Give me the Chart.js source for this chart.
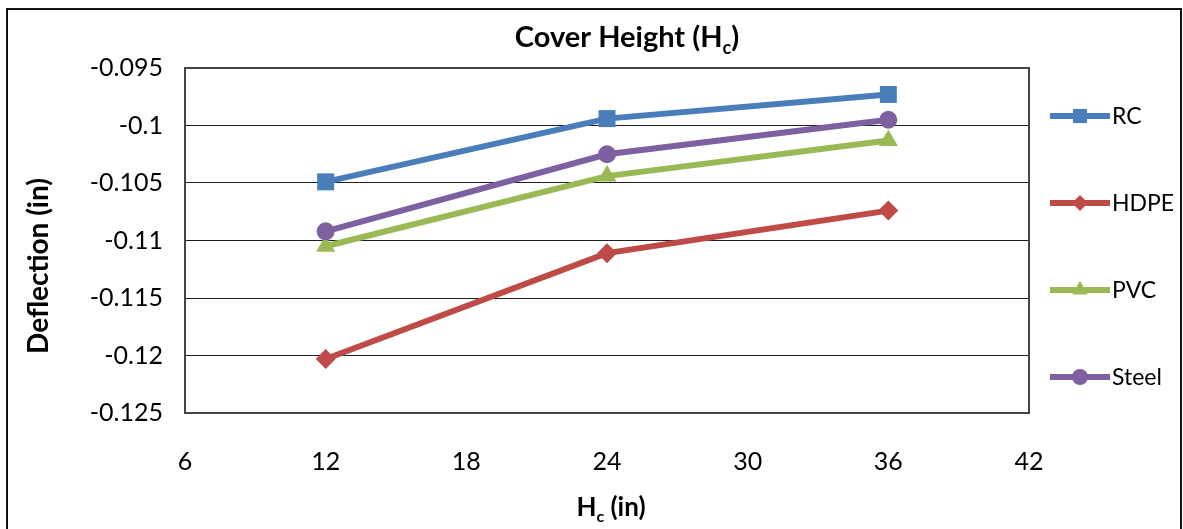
<!DOCTYPE html>
<html>
<head>
<meta charset="utf-8">
<script src="https://cdn.jsdelivr.net/npm/chart.js@4.4.1/dist/chart.umd.min.js"></script>
<style>
  html, body { margin: 0; padding: 0; background: #fff; }
  #wrap { position: relative; width: 1183px; height: 529px; }
</style>
</head>
<body>
<div id="wrap"><canvas id="c"></canvas></div>
<script>
// Cover height on the x axis (in)
const coverHeights = [12, 24, 36];
// Deflection per pipe material (in)
const rcDeflection    = [-0.1049, -0.0994, -0.0973];
const hdpeDeflection  = [-0.1203, -0.1111, -0.1074];
const pvcDeflection   = [-0.1105, -0.1044, -0.1013];
const steelDeflection = [-0.1092, -0.1025, -0.0995];
const seriesNames = ['RC', 'HDPE', 'PVC', 'Steel'];
// Axis ticks
const xTicks = [6, 12, 18, 24, 30, 36, 42];
const yTicks = [-0.125, -0.12, -0.115, -0.11, -0.105, -0.1, -0.095];

const FONT = 'Lato, "Open Sans", "DejaVu Sans", sans-serif';

function pts(values) {
  return coverHeights.map((x, i) => ({ x: x, y: values[i] }));
}

const styles = [
  { color: '#4a7ebb', point: 'rect',     radius: 12,  legendRadius: 10 },
  { color: '#be4b48', point: 'rectRot',  radius: 10,  legendRadius: 8 },
  { color: '#98b954', point: 'triangle', radius: 11,  legendRadius: 9 },
  { color: '#7d60a0', point: 'circle',   radius: 9,   legendRadius: 8 }
];
const seriesValues = [rcDeflection, hdpeDeflection, pvcDeflection, steelDeflection];

const datasets = seriesValues.map((vals, i) => ({
  label: seriesNames[i],
  data: pts(vals),
  borderColor: styles[i].color,
  backgroundColor: styles[i].color,
  borderWidth: 6,
  pointStyle: styles[i].point,
  pointRadius: styles[i].radius,
  pointHoverRadius: styles[i].radius,
  pointBorderWidth: 0,
  pointBackgroundColor: styles[i].color,
  tension: 0,
  order: seriesNames.length - i
}));

// Draws text pieces left to right; pieces flagged sub are smaller and lowered
function drawRich(ctx, parts, cx, cy, size, weight) {
  const subSize = Math.round(size * 0.62);
  const big = weight + ' ' + size + 'px ' + FONT;
  const small = weight + ' ' + subSize + 'px ' + FONT;
  let total = 0;
  parts.forEach(p => { ctx.font = p.sub ? small : big; total += ctx.measureText(p.t).width; });
  let x = cx - total / 2;
  ctx.textBaseline = 'alphabetic';
  ctx.textAlign = 'left';
  const base = cy + size * 0.36;
  parts.forEach(p => {
    ctx.font = p.sub ? small : big;
    ctx.fillText(p.t, x, p.sub ? base + size * 0.22 : base);
    x += ctx.measureText(p.t).width;
  });
}

const captions = {
  id: 'captions',
  afterDraw(chart) {
    const ctx = chart.ctx;
    ctx.save();
    ctx.fillStyle = '#000';
    drawRich(ctx, [{ t: 'Cover Height (H' }, { t: 'c', sub: true }, { t: ')' }], 627, 37, 29, 'bold');
    drawRich(ctx, [{ t: 'H' }, { t: 'c', sub: true }, { t: ' (in)' }], 611, 507, 26, 'bold');
    ctx.translate(38, 266);
    ctx.rotate(-Math.PI / 2);
    drawRich(ctx, [{ t: 'Deflection (in)' }], 0, 0, 28, 'bold');
    ctx.restore();
  }
};

const frame = {
  id: 'frame',
  beforeDraw(chart) {
    const ctx = chart.ctx;
    ctx.save();
    ctx.fillStyle = '#fff';
    ctx.fillRect(0, 0, chart.width, chart.height);
    ctx.strokeStyle = '#111';
    ctx.lineWidth = 2;
    ctx.beginPath();
    ctx.moveTo(7, chart.height);
    ctx.lineTo(7, 9);
    ctx.lineTo(1181, 9);
    ctx.lineTo(1181, chart.height);
    ctx.stroke();
    ctx.restore();
  },
  beforeDatasetsDraw(chart) {
    const a = chart.chartArea;
    const ctx = chart.ctx;
    ctx.save();
    ctx.strokeStyle = '#444';
    ctx.lineWidth = 2;
    ctx.strokeRect(a.left, a.top, a.right - a.left, a.bottom - a.top);
    ctx.restore();
  }
};

const sideLegend = {
  id: 'sideLegend',
  afterDraw(chart) {
    const ctx = chart.ctx;
    ctx.save();
    const x0 = 1050, x1 = 1110;
    chart.data.datasets.forEach((ds, i) => {
      const y = 116 + i * 87;
      ctx.strokeStyle = ds.borderColor;
      ctx.lineWidth = 6;
      ctx.beginPath();
      ctx.moveTo(x0, y);
      ctx.lineTo(x1, y);
      ctx.stroke();
      ctx.fillStyle = ds.borderColor;
      Chart.helpers.drawPoint(ctx, {
        pointStyle: styles[i].point,
        radius: styles[i].legendRadius,
        rotation: 0,
        borderWidth: 0
      }, (x0 + x1) / 2, y);
      ctx.fillStyle = '#000';
      ctx.font = '23px ' + FONT;
      ctx.textAlign = 'left';
      ctx.textBaseline = 'middle';
      ctx.fillText(ds.label, x1 + 2, y + 1);
    });
    ctx.restore();
  }
};

new Chart(document.getElementById('c'), {
  type: 'line',
  data: { datasets: datasets },
  plugins: [frame, captions, sideLegend],
  options: {
    responsive: true,
    maintainAspectRatio: false,
    animation: false,
    layout: { padding: { top: 68, right: 154, left: 0, bottom: 0 } },
    plugins: {
      legend: { display: false },
      title: { display: false },
      tooltip: { enabled: false }
    },
    scales: {
      x: {
        type: 'linear',
        min: xTicks[0],
        max: xTicks[xTicks.length - 1],
        afterBuildTicks(s) { s.ticks = xTicks.map(v => ({ value: v })); },
        afterFit(s) { s.height = 116; },
        grid: { display: false, drawTicks: false },
        border: { display: false },
        ticks: {
          padding: 34,
          color: '#000',
          font: { family: FONT, size: 25 },
          callback: v => String(v)
        }
      },
      y: {
        type: 'linear',
        min: yTicks[0],
        max: yTicks[yTicks.length - 1],
        afterBuildTicks(s) { s.ticks = yTicks.map(v => ({ value: v })); },
        afterFit(s) { s.width = 185; },
        grid: { color: '#1e1e1e', lineWidth: 1, drawTicks: false },
        border: { display: false },
        ticks: {
          padding: 22,
          color: '#000',
          font: { family: FONT, size: 25 },
          callback: v => String(Number(v.toFixed(3)))
        }
      }
    }
  }
});
</script>
</body>
</html>
